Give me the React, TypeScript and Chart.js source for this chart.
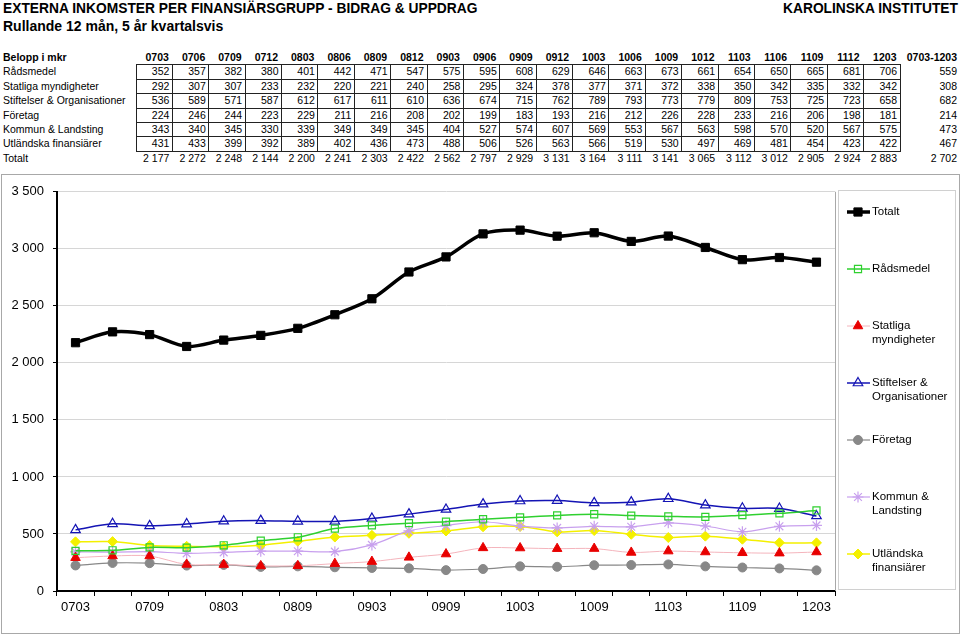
import React, { useEffect, useRef } from 'react';
import { Chart, registerables } from 'chart.js';
import { drawPoint } from 'chart.js/helpers';

Chart.register(...registerables);

const periods = ['0703', '0706', '0709', '0712', '0803', '0806', '0809', '0812', '0903', '0906', '0909', '0912', '1003', '1006', '1009', '1012', '1103', '1106', '1109', '1112', '1203'];
const radsmedel = [352, 357, 382, 380, 401, 442, 471, 547, 575, 595, 608, 629, 646, 663, 673, 661, 654, 650, 665, 681, 706];
const statliga = [292, 307, 307, 233, 232, 220, 221, 240, 258, 295, 324, 378, 377, 371, 372, 338, 350, 342, 335, 332, 342];
const stiftelser = [536, 589, 571, 587, 612, 617, 611, 610, 636, 674, 715, 762, 789, 793, 773, 779, 809, 753, 725, 723, 658];
const foretag = [224, 246, 244, 223, 229, 211, 216, 208, 202, 199, 183, 193, 216, 212, 226, 228, 233, 216, 206, 198, 181];
const kommun = [343, 340, 345, 330, 339, 349, 349, 345, 404, 527, 574, 607, 569, 553, 567, 563, 598, 570, 520, 567, 575];
const utlandska = [431, 433, 399, 392, 389, 402, 436, 473, 488, 506, 526, 563, 566, 519, 530, 497, 469, 481, 454, 423, 422];
const totalt = [2177, 2272, 2248, 2144, 2200, 2241, 2303, 2422, 2562, 2797, 2929, 3131, 3164, 3111, 3141, 3065, 3112, 3012, 2905, 2924, 2883];
const periodAverages = [559, 308, 682, 214, 473, 467];
const totalAverage = 2702;
const rowNames = ['Rådsmedel', 'Statliga myndigheter', 'Stiftelser & Organisationer', 'Företag', 'Kommun & Landsting', 'Utländska finansiärer'];
const legendLines = [['Totalt'], ['Rådsmedel'], ['Statliga', 'myndigheter'], ['Stiftelser &', 'Organisationer'], ['Företag'], ['Kommun &', 'Landsting'], ['Utländska', 'finansiärer']];

const FONT = "'Liberation Sans', Arial, sans-serif";
const fmt = (n: number) => String(n).replace(/\B(?=(\d{3})+(?!\d))/g, ' ');

const legendPlugin = {
  id: 'customLegend',
  beforeDatasetsDraw(chart: any) {
    const { ctx, chartArea } = chart;
    ctx.save();
    ctx.strokeStyle = '#a8a8a8';
    ctx.lineWidth = 1;
    ctx.beginPath();
    ctx.moveTo(chartArea.right + 0.5, chartArea.top);
    ctx.lineTo(chartArea.right + 0.5, chartArea.bottom);
    ctx.stroke();
    ctx.restore();
  },
  afterDraw(chart: any) {
    const ctx = chart.ctx;
    ctx.save();
    ctx.strokeStyle = '#d0d0d0';
    ctx.lineWidth = 1;
    ctx.strokeRect(836.5, 15.5, 117, 399);
    const startY = 37;
    const step = 57;
    chart.data.datasets.forEach((ds: any, i: number) => {
      const y = startY + i * step;
      ctx.strokeStyle = ds.borderColor;
      ctx.lineWidth = ds.borderWidth;
      ctx.beginPath();
      ctx.moveTo(845, y);
      ctx.lineTo(868, y);
      ctx.stroke();
      ctx.fillStyle = ds.pointBackgroundColor;
      ctx.strokeStyle = ds.pointBorderColor;
      ctx.lineWidth = ds.pointBorderWidth;
      drawPoint(ctx, { pointStyle: ds.pointStyle, radius: ds.pointRadius, borderWidth: ds.pointBorderWidth, rotation: 0 } as any, 856, y);
      ctx.fillStyle = '#000';
      ctx.font = `11.5px ${FONT}`;
      ctx.textBaseline = 'middle';
      ctx.textAlign = 'left';
      legendLines[i].forEach((l, j) => ctx.fillText(l, 870, y + j * 13.5));
    });
    ctx.restore();
  },
};

function ChartBox() {
  const ref = useRef<HTMLCanvasElement | null>(null);
  useEffect(() => {
    if (!ref.current) return;
    const mk = (label: string, data: number[], o: any) => ({
      label, data, tension: 0.3, fill: false, pointHoverRadius: o.pointRadius, ...o,
    });
    const chart = new Chart(ref.current, {
      type: 'line',
      data: {
        labels: periods,
        datasets: [
          mk('Totalt', totalt, { borderColor: '#000', borderWidth: 3.5, pointStyle: 'rect', pointRadius: 5.8, pointBackgroundColor: '#000', pointBorderColor: '#000', pointBorderWidth: 1 }),
          mk('Rådsmedel', radsmedel, { borderColor: '#2fd02f', borderWidth: 1.5, pointStyle: 'rect', pointRadius: 5, pointBackgroundColor: 'rgba(255,255,255,0)', pointBorderColor: '#2fd02f', pointBorderWidth: 1.2 }),
          mk('Statliga myndigheter', statliga, { borderColor: '#f4b4bc', borderWidth: 1, pointStyle: 'triangle', pointRadius: 5.5, pointBackgroundColor: '#e80000', pointBorderColor: '#e80000', pointBorderWidth: 1 }),
          mk('Stiftelser & Organisationer', stiftelser, { borderColor: '#1414b4', borderWidth: 1.5, pointStyle: 'triangle', pointRadius: 5.5, pointBackgroundColor: 'rgba(255,255,255,0)', pointBorderColor: '#1414b4', pointBorderWidth: 1.2 }),
          mk('Företag', foretag, { borderColor: '#888888', borderWidth: 1.2, pointStyle: 'circle', pointRadius: 4.5, pointBackgroundColor: '#888888', pointBorderColor: '#888888', pointBorderWidth: 1 }),
          mk('Kommun & Landsting', kommun, { borderColor: '#c8a0ee', borderWidth: 1.2, pointStyle: 'star', pointRadius: 5.5, pointBackgroundColor: '#c8a0ee', pointBorderColor: '#c8a0ee', pointBorderWidth: 1.2 }),
          mk('Utländska finansiärer', utlandska, { borderColor: '#f4f000', borderWidth: 1.5, pointStyle: 'rectRot', pointRadius: 5, pointBackgroundColor: '#f4f000', pointBorderColor: '#f4f000', pointBorderWidth: 1 }),
        ],
      },
      options: {
        animation: false,
        responsive: false,
        maintainAspectRatio: false,
        layout: { padding: { left: 0, top: 15, right: 124, bottom: 0 } },
        plugins: { legend: { display: false }, tooltip: { enabled: false }, title: { display: false } },
        font: { family: FONT },
        scales: {
          x: {
            offset: true,
            grid: { offset: true, drawOnChartArea: false, color: '#000', tickLength: 5, lineWidth: 1 },
            border: { color: '#000', width: 2 },
            ticks: {
              autoSkip: false, maxRotation: 0, minRotation: 0, padding: 4, color: '#000',
              font: { size: 13, family: FONT },
              callback: (_v: any, i: number) => (i % 2 === 0 ? periods[i] : ''),
            },
            afterFit: (s: any) => { s.height = 42; },
          },
          y: {
            min: 0, max: 3500,
            ticks: { stepSize: 500, padding: 9, color: '#000', font: { size: 13, family: FONT }, callback: (v: any) => fmt(Number(v)) },
            grid: { color: '#d6d6d6', tickColor: '#000', tickLength: 4, lineWidth: 1 },
            border: { color: '#000', width: 2 },
            afterFit: (s: any) => { s.width = 55; },
          },
        },
      } as any,
      plugins: [legendPlugin],
    });
    return () => chart.destroy();
  }, []);
  return <canvas ref={ref} width={957} height={458} style={{ width: 957, height: 458, display: 'block' }} />;
}

const ROW0 = 50;
const RH = 14.4;
const C0 = 136;
const CW = 764 / 21;

function Table() {
  const els: React.ReactNode[] = [];
  const txt = (key: string, left: number, top: number, width: number, text: string, align: 'left' | 'right' | 'center', bold = false, pr = 0) => {
    els.push(
      <div key={key} style={{ position: 'absolute', left, top, width, height: RH, lineHeight: RH + 'px', fontSize: 10.5, fontWeight: bold ? 'bold' : 'normal', textAlign: align, whiteSpace: 'nowrap', paddingRight: pr, boxSizing: 'border-box', color: '#000' }}>{text}</div>
    );
  };
  txt('h-label', 3, ROW0, 130, 'Belopp i mkr', 'left', true);
  periods.forEach((p, c) => txt('h' + c, C0 + c * CW + 3, ROW0, CW, p, 'center', true));
  txt('h-avg', 890, ROW0, 68, '0703-1203', 'right', true, 1);
  const series = [radsmedel, statliga, stiftelser, foretag, kommun, utlandska];
  series.forEach((s, r) => {
    const top = ROW0 + (r + 1) * RH;
    txt('l' + r, 3, top, 133, rowNames[r], 'left');
    s.forEach((v, c) => txt(`c${r}-${c}`, C0 + c * CW, top, CW, fmt(v), 'right', false, 3));
    txt('a' + r, 890, top, 68, fmt(periodAverages[r]), 'right', false, 1);
  });
  const ttop = ROW0 + 7 * RH;
  txt('lt', 3, ttop, 133, 'Totalt', 'left');
  totalt.forEach((v, c) => txt('t' + c, C0 + c * CW, ttop, CW, fmt(v), 'right', false, 3));
  txt('at', 890, ttop, 68, fmt(totalAverage), 'right', false, 1);
  for (let r = 0; r <= 6; r++) {
    els.push(<div key={'hl' + r} style={{ position: 'absolute', left: C0, top: ROW0 + (r + 1) * RH, width: 21 * CW, height: 1, background: '#222' }} />);
  }
  for (let c = 0; c <= 21; c++) {
    els.push(<div key={'vl' + c} style={{ position: 'absolute', left: C0 + c * CW - 0.5, top: ROW0 + RH, width: 1, height: 6 * RH + 1, background: '#222' }} />);
  }
  return <>{els}</>;
}

export default function App() {
  return (
    <div style={{ position: 'absolute', left: 0, top: 0, width: 960, height: 635, background: '#fff', fontFamily: FONT, overflow: 'hidden' }}>
      <div style={{ position: 'absolute', left: 3, top: 1, fontSize: 13.8, lineHeight: '16px', fontWeight: 'bold', whiteSpace: 'nowrap' }}>EXTERNA INKOMSTER PER FINANSIÄRSGRUPP - BIDRAG &amp; UPPDRAG</div>
      <div style={{ position: 'absolute', right: 2, top: 1, fontSize: 13.8, lineHeight: '16px', fontWeight: 'bold', whiteSpace: 'nowrap' }}>KAROLINSKA INSTITUTET</div>
      <div style={{ position: 'absolute', left: 3, top: 18, fontSize: 14, lineHeight: '16px', fontWeight: 'bold', whiteSpace: 'nowrap' }}>Rullande 12 mån, 5 år kvartalsvis</div>
      <Table />
      <div style={{ position: 'absolute', left: 1, top: 174, width: 957, height: 458, border: '1px solid #a8a8a8' }}>
        <ChartBox />
      </div>
    </div>
  );
}
